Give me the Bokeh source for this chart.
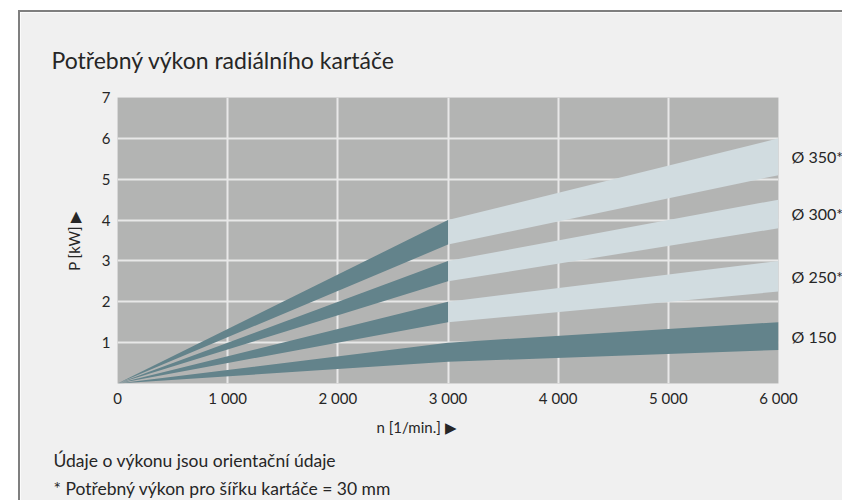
from bokeh.plotting import figure
from bokeh.models import FixedTicker, Range1d, LinearAxis, Title
from bokeh.embed import file_html
from bokeh.resources import INLINE

# ---- data ----
n = [0, 3000, 6000]
d350_lo = [0, 3.4, 5.1]
d350_hi = [0, 4.0, 6.0]
d300_lo = [0, 2.5, 3.8]
d300_hi = [0, 3.0, 4.5]
d250_lo = [0, 1.5, 2.25]
d250_hi = [0, 2.0, 3.0]
d150_lo = [0, 0.53, 0.82]
d150_hi = [0, 1.0, 1.5]
series_names = ["Ø 350*", "Ø 300*", "Ø 250*", "Ø 150"]
x_ticks = [0, 1000, 2000, 3000, 4000, 5000, 6000]
x_tick_labels = ["0", "1 000", "2 000", "3 000", "4 000", "5 000", "6 000"]
y_ticks = [1, 2, 3, 4, 5, 6, 7]

FONT = "Lato"
TXT = "#262626"
DARK = "#63838b"
LIGHT = "#d1dce0"

p = figure(frame_width=661, frame_height=286,
           x_range=Range1d(0, 6000), y_range=Range1d(0, 7),
           output_backend="svg", toolbar_location=None,
           min_border_left=97, min_border_right=64,
           min_border_top=85, min_border_bottom=117)
p.styles = {"margin-left": "18px", "margin-top": "10px",
            "border-left": "2px solid #7f7f7f", "border-top": "2px solid #7f7f7f"}
p.background_fill_color = "#b3b4b3"
p.border_fill_color = "#f0f0f0"
p.outline_line_color = None

p.xgrid.ticker = FixedTicker(ticks=x_ticks[1:])
p.ygrid.ticker = FixedTicker(ticks=y_ticks)
for g in (p.xgrid, p.ygrid):
    g.grid_line_color = "#e8e8e8"
    g.grid_line_width = 2

# bands
bands = [(d350_lo, d350_hi), (d300_lo, d300_hi), (d250_lo, d250_hi)]
for lo, hi in bands:
    p.varea(x=n[:2], y1=lo[:2], y2=hi[:2], fill_color=DARK)
    p.varea(x=n[1:], y1=lo[1:], y2=hi[1:], fill_color=LIGHT)
p.varea(x=n, y1=d150_lo, y2=d150_hi, fill_color=DARK)

# axes
xax = p.xaxis[0]
yax = p.yaxis[0]
xax.ticker = FixedTicker(ticks=x_ticks)
xax.major_label_overrides = {t: l for t, l in zip(x_ticks, x_tick_labels)}
yax.ticker = FixedTicker(ticks=y_ticks)

# series labels through a right-hand axis at the band mid-points at n = 6000
all_bands = bands + [(d150_lo, d150_hi)]
mids = [(lo[-1] + hi[-1]) / 2 for lo, hi in all_bands]
raxis = LinearAxis(ticker=FixedTicker(ticks=mids),
                   major_label_overrides={m: s for m, s in zip(mids, series_names)})
p.add_layout(raxis, "right")

for ax in (xax, yax, raxis):
    ax.axis_line_color = None
    ax.major_tick_line_color = None
    ax.minor_tick_line_color = None
    ax.major_tick_out = 0
    ax.major_tick_in = 0
    ax.minor_tick_out = 0
    ax.major_label_text_font = FONT
    ax.major_label_text_font_size = "15px"
    ax.major_label_text_color = TXT
    ax.major_label_standoff = 7
xax.major_label_standoff = 5
raxis.major_label_standoff = 13
raxis.major_label_text_font_size = "16px"
yax.axis_label = "P [kW] ▶"
yax.axis_label_text_font = FONT
yax.axis_label_text_font_size = "15px"
yax.axis_label_text_font_style = "normal"
yax.axis_label_text_color = TXT
yax.axis_label_standoff = 16

# title and notes
p.title.text = "Potřebný výkon radiálního kartáče"
p.title.align = "left"
p.title.offset = -66
p.title.standoff = 48
p.title.text_font = FONT
p.title.text_font_size = "23px"
p.title.text_font_style = "normal"
p.title.text_color = TXT

def below(text, offset, size, standoff):
    t = Title(text=text, align="left", offset=offset, standoff=standoff,
              text_font=FONT, text_font_size=size, text_font_style="normal",
              text_color=TXT)
    p.add_layout(t, "below")

below("n [1/min.] ▶", 259, "15px", 13)
below("Údaje o výkonu jsou orientační údaje", -64, "17.5px", 10)
below("* Potřebný výkon pro šířku kartáče = 30 mm", -64, "17.5px", 0)

open("out.html", "w").write(file_html(p, INLINE))
